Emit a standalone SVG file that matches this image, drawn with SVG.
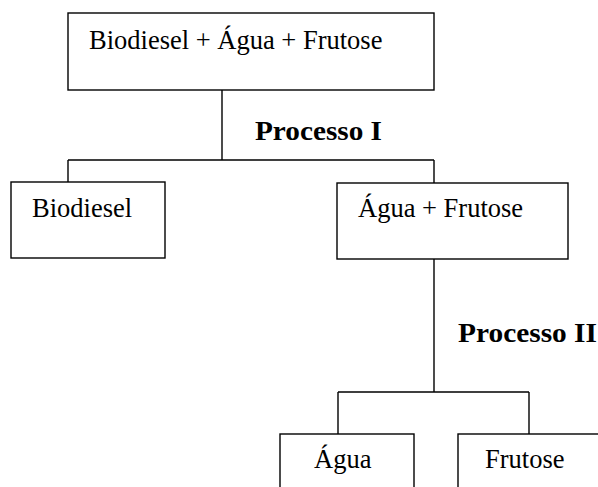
<svg xmlns="http://www.w3.org/2000/svg" width="598" height="487" viewBox="0 0 598 487">
<style>
.box{fill:#fff;stroke:#000;stroke-width:1.4}
.t{font-family:"Liberation Serif","Times New Roman",serif;font-size:26.5px;fill:#000}
.b{font-family:"Liberation Serif","Times New Roman",serif;font-size:27px;font-weight:bold;fill:#000}
.c{fill:none;stroke:#000;stroke-width:1.4}
</style>
<rect width="598" height="487" fill="#fff"/>
<g id="connectors">
<path class="c" d="M222 90V160M68 160H434M68 160V182M434 160V183"/>
<path class="c" d="M434 259V392M338 392H529M338 392V434M529 392V434"/>
</g>
<g id="node-top">
<rect class="box" x="68" y="13" width="366" height="77"/>
<text class="t" x="89" y="49">Biodiesel + Água + Frutose</text>
</g>
<g id="label-p1">
<text class="b" x="255" y="140" textLength="127" lengthAdjust="spacingAndGlyphs">Processo I</text>
</g>
<g id="node-biodiesel">
<rect class="box" x="11" y="182" width="154" height="76"/>
<text class="t" x="32" y="217">Biodiesel</text>
</g>
<g id="node-agua-frutose">
<rect class="box" x="337" y="183" width="231" height="76"/>
<text class="t" x="358" y="217">Água + Frutose</text>
</g>
<g id="label-p2">
<text class="b" x="458" y="342" textLength="139" lengthAdjust="spacingAndGlyphs">Processo II</text>
</g>
<g id="node-agua">
<rect class="box" x="280" y="434" width="134" height="70"/>
<text class="t" x="314" y="468">Água</text>
</g>
<g id="node-frutose">
<rect class="box" x="458" y="434" width="160" height="70"/>
<text class="t" x="485" y="468">Frutose</text>
</g>
</svg>
